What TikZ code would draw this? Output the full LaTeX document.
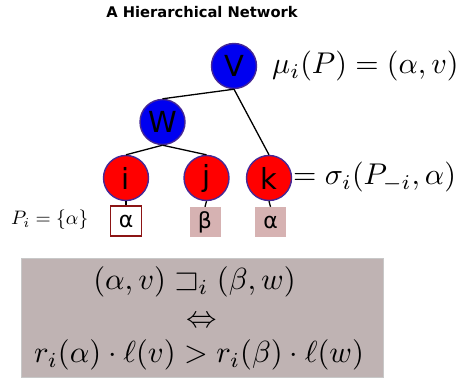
\documentclass[tikz,border=0pt]{standalone}
\usepackage{amssymb}
\usepackage{fontspec}
\newfontfamily\dejavu{DejaVu Sans}
\newfontfamily\dejavub{DejaVu Sans Bold}
\definecolor{nblue}{RGB}{0,0,240}
\definecolor{nred}{RGB}{255,0,0}
\definecolor{nrim}{RGB}{70,40,150}
\definecolor{boxred}{RGB}{140,20,20}
\definecolor{pinkfill}{RGB}{214,178,178}
\definecolor{mauve}{RGB}{191,179,179}
\definecolor{mauverim}{RGB}{200,200,200}
\tikzset{
  agent/.style={circle, minimum size=45pt, inner sep=0pt, draw=nrim, line width=1.4pt,
    font=\dejavu\fontsize{29}{32}\selectfont},
  bluenode/.style={agent, fill=nblue},
  rednode/.style={agent, fill=nred},
  strat/.style={rectangle, minimum width=31pt, minimum height=30pt, inner sep=0pt,
    font=\dejavu\fontsize{22}{24}\selectfont},
  stratown/.style={strat, fill=white, draw=boxred, line width=1.2pt},
  stratother/.style={strat, fill=pinkfill},
  edge/.style={draw=black, line width=1.3pt},
  mathlbl/.style={inner sep=0pt}
}
\begin{document}
\begin{tikzpicture}[x=1pt,y=-1pt]
\useasboundingbox (0,0) rectangle (462,379);
\fill[white] (0,0) rectangle (462,379);
% title
\node[font=\dejavub\fontsize{14.7}{17}\selectfont] (title) at (202,12) {A Hierarchical Network};
% tree nodes
\node[bluenode] (V) at (234,66) {V};
\node[bluenode] (W) at (162.5,122) {W};
\node[rednode] (i) at (126,178) {i};
\node[rednode] (j) at (206.5,178) {j};
\node[rednode] (k) at (269,178) {k};
% edges
\draw[edge] (V.south) -- (W.north);
\draw[edge] (V.south) -- (k.north);
\draw[edge] (W.south) -- (i.north);
\draw[edge] (W.south) -- (j.north);
% strategy boxes
\node[stratown] (si) at (126,221) {α};
\node[stratother] (sj) at (205,222) {β};
\node[stratother] (sk) at (270.5,222) {α};
\draw[edge] (i.south) -- (si.north);
\draw[edge] (j.south) -- (sj.north);
\draw[edge] (k.south) -- (sk.north);
% labels
\node[mathlbl, anchor=west] (mu) at (272,66.5) {\scalebox{3.0}{$\mu_i(P) = (\alpha, v)$}};
\node[mathlbl, anchor=west] (sigma) at (293,177.5) {\scalebox{3.0}{${=}\;\sigma_i(P_{-i}, \alpha)$}};
\node[mathlbl, anchor=west] (Pi) at (11,220) {\scalebox{1.95}{$P_i = \{\alpha\}$}};
% bottom box
\node[draw=mauverim, fill=mauve, line width=0.8pt, minimum width=362pt, minimum height=119pt, inner sep=0pt] (rule) at (202,317.5) {};
\node[mathlbl] (l1) at (194.5,282) {\scalebox{3.05}{$(\alpha, v) \sqsupset_i (\beta, w)$}};
\node[mathlbl] (l2) at (202,322) {\scalebox{3.05}{$\Leftrightarrow$}};
\node[mathlbl] (l3) at (199,355) {\scalebox{3.05}{$r_i(\alpha)\cdot\ell(v) > r_i(\beta)\cdot\ell(w)$}};
\end{tikzpicture}
\end{document}
